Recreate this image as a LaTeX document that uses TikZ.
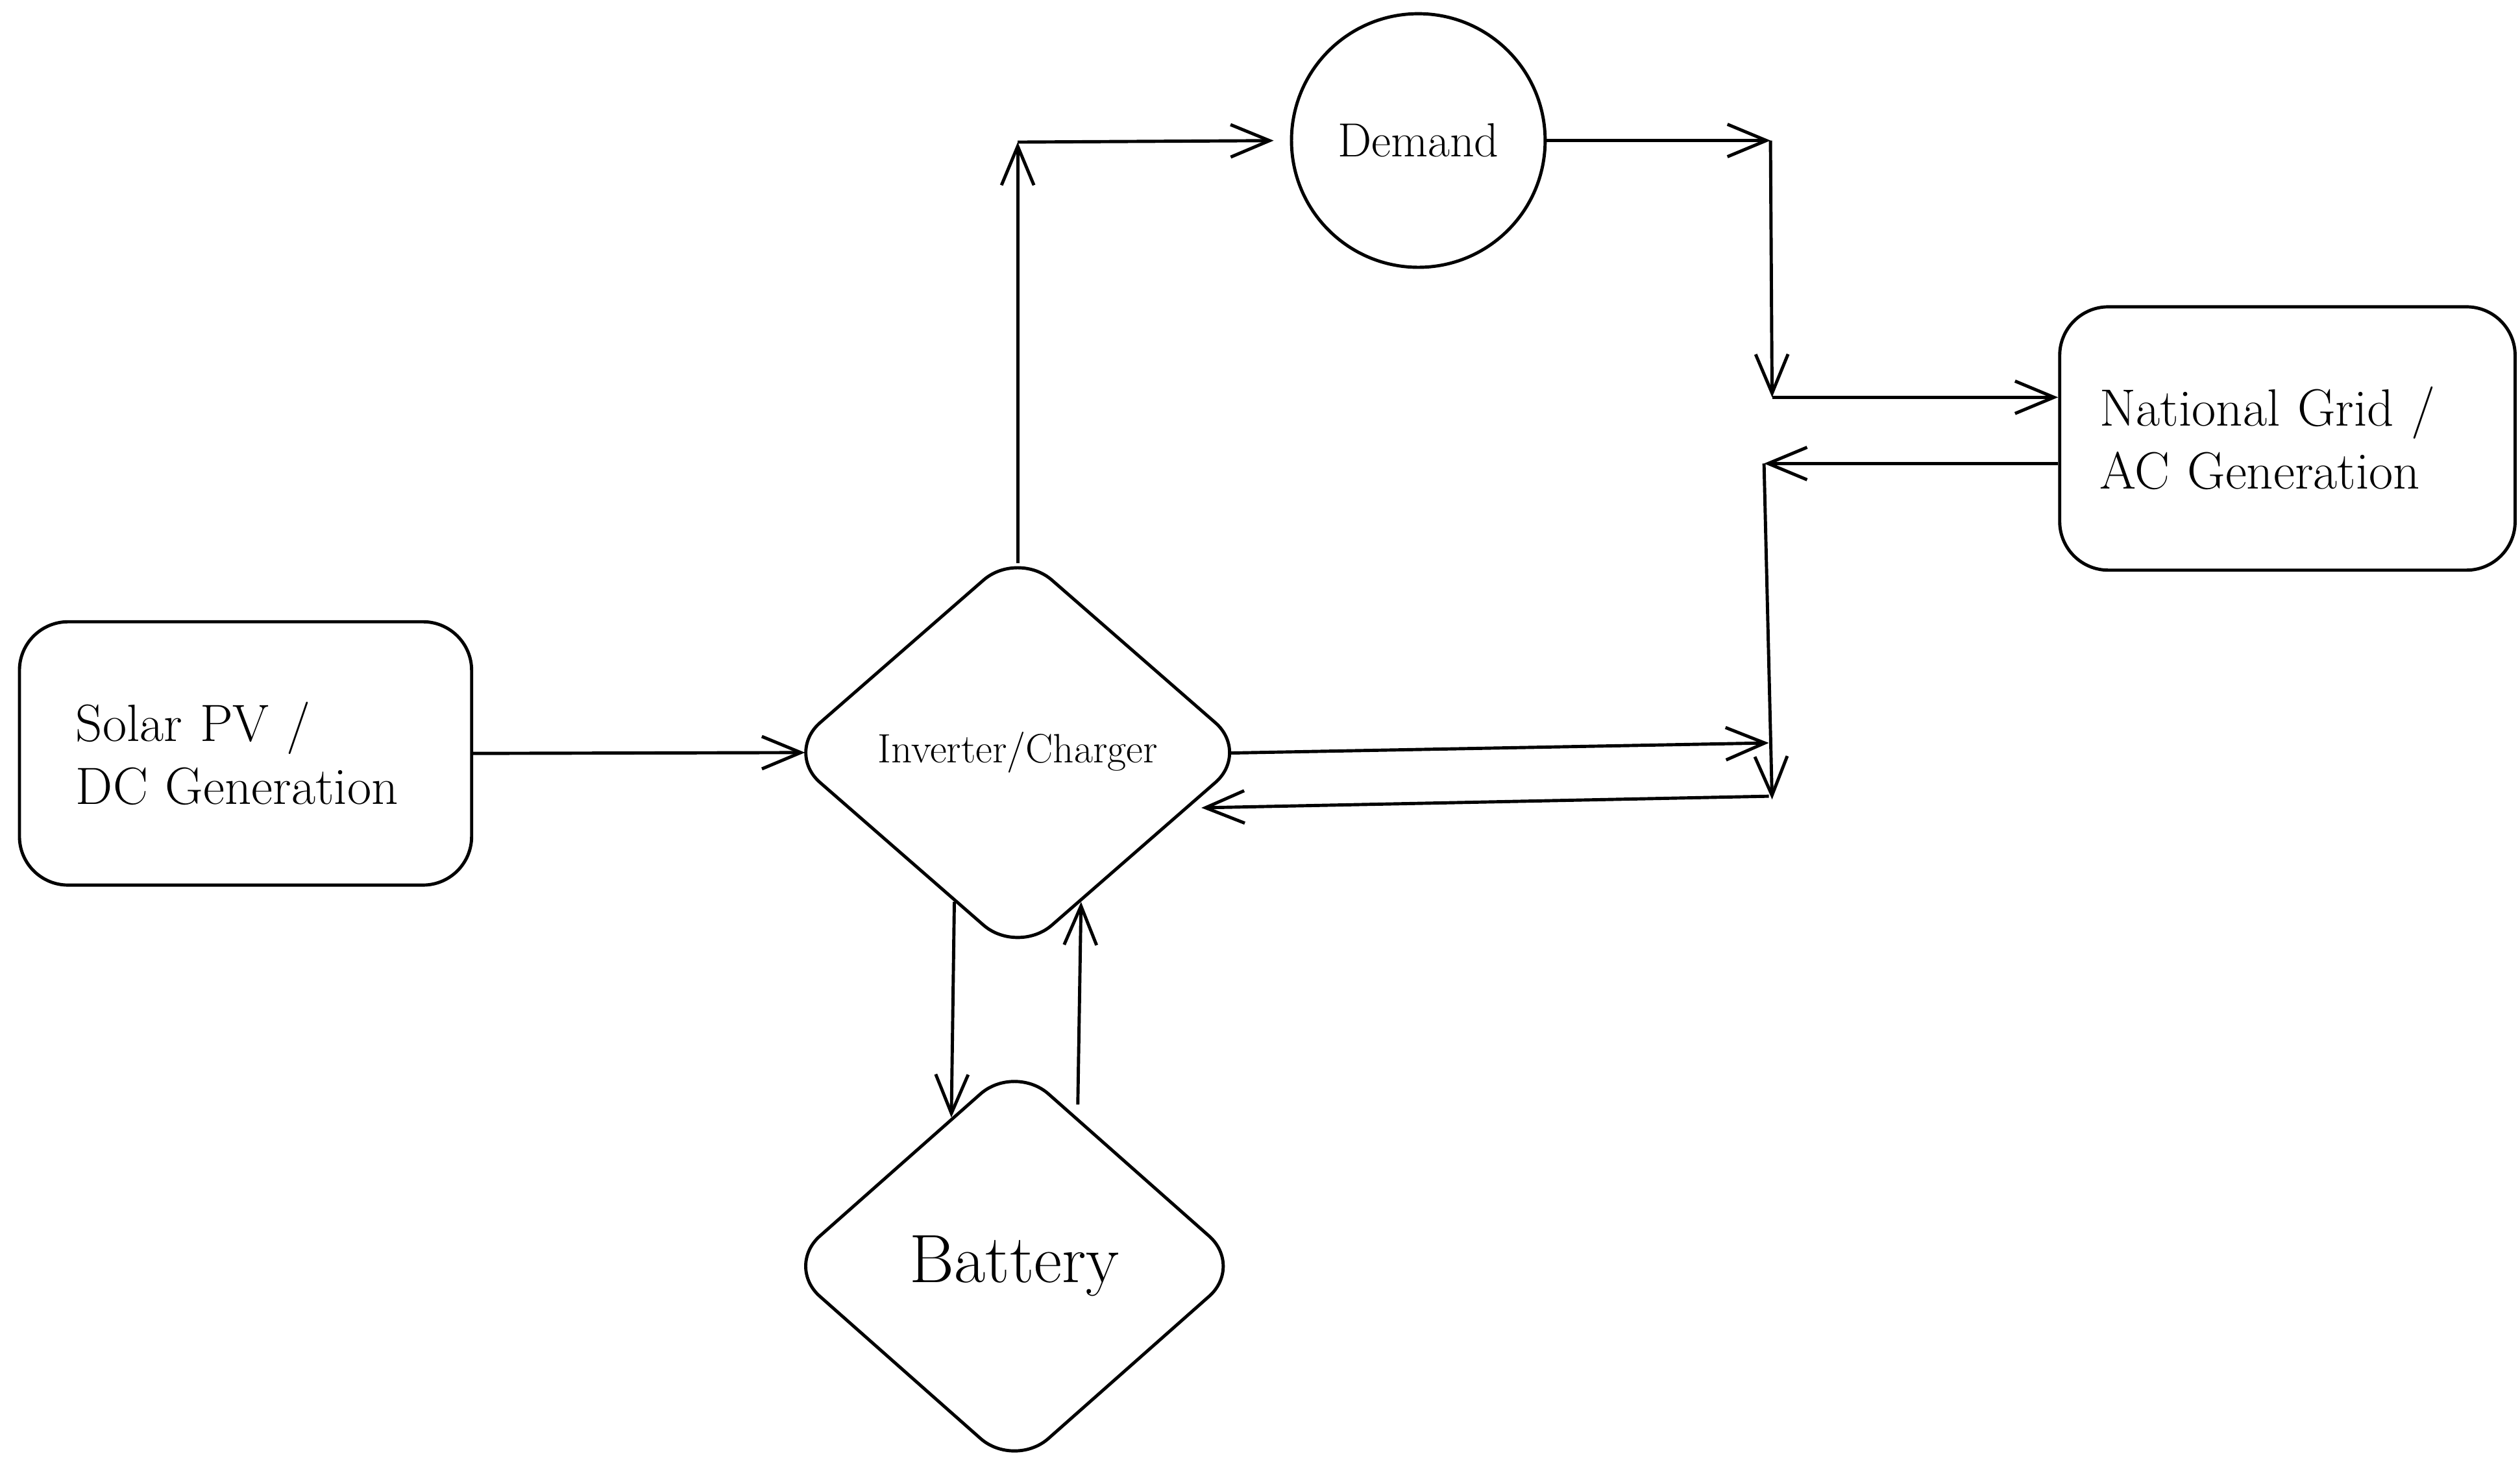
\documentclass[tikz,border=0pt]{standalone}
\usepackage{tikz}
\usetikzlibrary{shapes.geometric,arrows.meta}

\tikzset{
	box/.style={draw, line width=1.4pt, rounded corners=0.75cm, minimum width=6.97cm, minimum height=4.06cm, align=left, font=\fontsize{23}{27.6}\selectfont},
	choice/.style={draw, diamond, line width=1.4pt, rounded corners=0.7cm, inner sep=0pt},
	flow/.style={line width=1.4pt, -{Straight Barb[length=6mm,width=5mm,line width=1.4pt]}}
}

\begin{document}
\begin{tikzpicture}[x=2.49cm,y=-2.49cm]
				\useasboundingbox (0,0) rectangle (15.6,9.16);

				\node [box, text width=5.23cm] (solar) at (1.52,4.665) {Solar PV /\\DC Generation};
				\node [box, minimum width=7.02cm, text width=5.78cm] (grid) at (14.16,2.715) {National Grid /\\AC Generation};
				\node [choice, minimum width=7.17cm, minimum height=6.26cm, font=\fontsize{18}{22}\selectfont] (inverter) at (6.30,4.66) {Inverter/Charger};
				\node [choice, minimum width=7.07cm, minimum height=6.26cm, font=\fontsize{30}{36}\selectfont] (battery) at (6.28,7.84) {Battery};
				\node [draw, circle, line width=1.4pt, minimum size=3.91cm, font=\fontsize{21}{25}\selectfont] (demand) at (8.78,0.87) {Demand};

				\coordinate (tl) at (6.30,0.88);
				\coordinate (tr) at (10.96,0.87);
				\coordinate (bj) at (10.97,2.46);
				\coordinate (gj) at (10.92,2.87);
				\coordinate (lj) at (10.97,4.95);
				\coordinate (rj) at (10.95,4.60);
				\coordinate (rl) at (10.95,4.93);

				\draw [flow, shorten >=-3.3mm] (solar.east) -- (inverter.west);
				\draw [flow, shorten <=-2.3mm] (inverter.north) -- (tl);
				\draw [flow, shorten >=2.5mm] (tl) -- (demand.west);
				\draw [flow] (demand.east) -- (tr);
				\draw [flow] (tr) -- (bj);
				\draw [flow] (bj) -- (bj -| grid.west);
				\draw [flow] (gj -| grid.west) -- (gj);
				\draw [flow] (gj) -- (lj);
				\draw [flow, shorten <=-3.3mm] (inverter.east) -- (rj);
				\draw [flow, shorten >=2mm] (rl) -- (inverter.-18);
				\draw [flow] (inverter.-113) -- (battery.113);
				\draw [flow, shorten <=2mm] (battery.67) -- (inverter.-67);

			\end{tikzpicture}
\end{document}
